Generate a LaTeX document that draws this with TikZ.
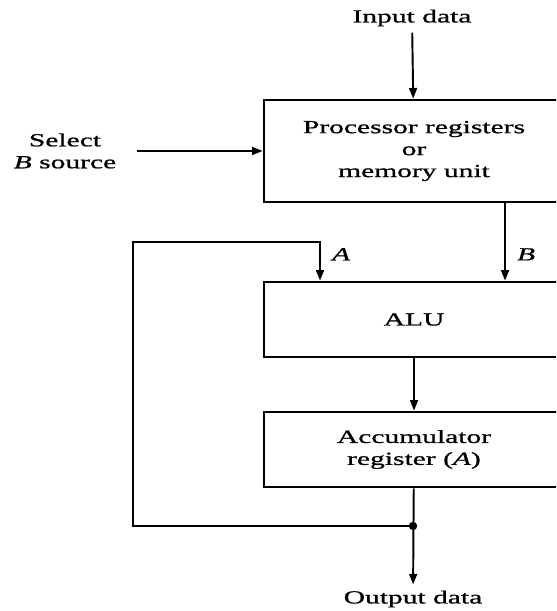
\documentclass[tikz,border=0pt]{standalone}
\usepackage{fontspec}
\setmainfont{Liberation Serif}[FakeStretch=1.6,FakeBold=1]
\usepackage{tikz}
\usetikzlibrary{arrows,arrows.meta,positioning,calc}

\begin{document}
\begin{tikzpicture}[
  unit/.style={draw,line width=1.6pt,minimum width=6cm,align=center,font=\fontsize{10.5}{12.5}\selectfont},
  lbl/.style={align=center,font=\fontsize{10.5}{12.5}\selectfont},
  arr/.style={->,>={Triangle[length=6pt,width=4.5pt]},line width=1.1pt}
]
\clip (0,0) rectangle (11.12,12.22);
\useasboundingbox (0,0) rectangle (11.12,12.22);
% Units
\node[unit,minimum height=2.04cm] (proc) at (8.28,9.2)  {Processor registers\\or\\memory unit};
\node[unit,minimum height=1.5cm]  (alu)  at (8.28,5.83) {ALU};
\node[unit,minimum height=1.5cm]  (acc)  at (8.28,3.23) {Accumulator\\register (\textit{A})};
% Outside labels
\node[lbl] (in)  at (8.24,11.86) {Input data};
\node[lbl] (sel) at (1.3,9.2)    {Select\\\textit{B} source};
\node[lbl] (out) at (8.26,0.24)  {Output data};
% Helper points
\coordinate (bx)  at (10.1,0);
\coordinate (ax)  at (6.4,0);
\coordinate (fb)  at (2.66,7.38);
\coordinate (tap) at (8.26,1.7);

% Arrows
\draw[arr] (in) -- (proc);
\draw[arr,shorten <=8pt] (sel) -- (proc);
\draw[arr] (proc.south -| bx) -- (alu.north -| bx) node[pos=0.66,right=3pt,lbl]{\textit{B}};
\draw[arr] (alu) -- (acc);
\draw[arr] (acc) -- (out);
\draw[arr] (tap) -| (fb) -| (alu.north -| ax) node[pos=0.66,right=3pt,lbl]{\textit{A}};
\fill (tap) circle (2.4pt);
\end{tikzpicture}
\end{document}
